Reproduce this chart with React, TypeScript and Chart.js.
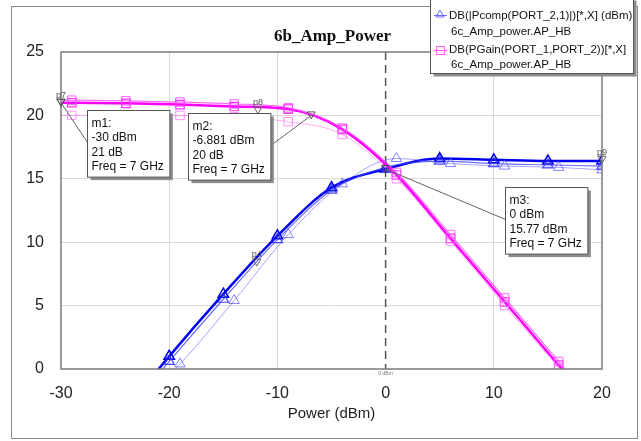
import React, { useEffect, useRef } from "react";
import { Chart, registerables } from "chart.js";

Chart.register(...registerables);

// ---------- data ----------
const xSetA = [-30, -25, -20, -15, -10, -5, 0, 5, 10, 15, 20];
const xSetB = [-29, -24, -19, -14, -9, -4, 1, 6, 11, 16, 20];
const xPink = [-30, -29, -24, -19, -14, -9, -4, 1, 6, 11, 16, 20];

const pcompMain = [-9.2, -4.2, 1.0, 5.9, 10.5, 14.3, 15.77, 16.6, 16.5, 16.4, 16.4];
const pcompMid = [-9.5, -4.5, 0.6, 5.5, 10.2, 14.1, 15.9, 16.4, 16.2, 16.1, 16.0];
const pcompLight = [-8.6, -3.6, 0.4, 5.4, 10.6, 14.6, 16.6, 16.2, 16.0, 15.9, 15.7];

const gainHigh = [21.2, 21.2, 21.15, 21.05, 20.9, 20.6, 19.0, 15.5, 10.6, 5.6, 0.6, -3.4];
const gainMain = [21.0, 21.0, 20.95, 20.85, 20.7, 20.5, 18.9, 15.3, 10.3, 5.3, 0.3, -3.7];
const gainLow = [20.0, 20.0, 20.0, 20.0, 19.9, 19.5, 18.5, 15.0, 10.1, 5.0, 0.1, -3.9];

const xTicks = [-30, -20, -10, 0, 10, 20];
const yTicks = [0, 5, 10, 15, 20, 25];

const titleText = "6b_Amp_Power";
const xTitle = "Power (dBm)";
const legendPcomp = ["DB(|Pcomp(PORT_2,1)|)[*,X] (dBm)", "6c_Amp_power.AP_HB"];
const legendGain = ["DB(PGain(PORT_1,PORT_2))[*,X]", "6c_Amp_power.AP_HB"];

// markers m1..m3
const mX = [-30, -6.881, 0];
const mY = [21, 20, 15.77];
const mText = [
  ["m1:", "-30 dBm", "21 dB", "Freq = 7 GHz"],
  ["m2:", "-6.881 dBm", "20 dB", "Freq = 7 GHz"],
  ["m3:", "0 dBm", "15.77 dBm", "Freq = 7 GHz"],
];
const mBoxX = [-27.6, -18.26, 11.03];
const mBoxY = [20.43, 20.19, 14.35];

// trace markers p
const pNames = ["p7", "p8", "p4", "p9"];
const pX = [-30, -11.8, -11.9, 20];
const pY = [21.0, 20.4, 8.4, 16.5];

const SANS = "'Liberation Sans', Arial, sans-serif";

const toXY = (xs: number[], ys: number[]) => xs.map((x, i) => ({ x, y: ys[i] }));

function markerRadius(c: any) {
  const r = c.raw;
  return r && r.y >= 0 && r.x > -30 ? 6 : 0;
}

function drawTriDown(ctx: CanvasRenderingContext2D, x: number, y: number) {
  ctx.beginPath();
  ctx.moveTo(x - 4, y - 3.5);
  ctx.lineTo(x + 4, y - 3.5);
  ctx.lineTo(x, y + 3.5);
  ctx.closePath();
  ctx.stroke();
}

const overlayPlugin = {
  id: "awrOverlay",
  beforeDraw(chart: any) {
    const { ctx } = chart;
    ctx.save();
    ctx.fillStyle = "#ffffff";
    ctx.fillRect(0, 0, chart.width, chart.height);
    ctx.strokeStyle = "#8a8a8a";
    ctx.lineWidth = 1;
    ctx.strokeRect(11.5, 6.5, 626, 432);
    ctx.restore();
  },
  beforeDatasetsDraw(chart: any) {
    const { ctx, chartArea: a, scales } = chart;
    const x0 = scales.x.getPixelForValue(0);
    ctx.save();
    ctx.strokeStyle = "#555555";
    ctx.lineWidth = 1.5;
    ctx.setLineDash([8, 5]);
    ctx.beginPath();
    ctx.moveTo(x0, a.top);
    ctx.lineTo(x0, a.bottom);
    ctx.stroke();
    ctx.restore();
  },
  afterDatasetsDraw(chart: any) {
    const { ctx, chartArea: a, scales } = chart;
    const px = (v: number) => scales.x.getPixelForValue(v);
    const py = (v: number) => scales.y.getPixelForValue(v);
    ctx.save();
    // plot border
    ctx.strokeStyle = "#7a7a7a";
    ctx.lineWidth = 1.5;
    ctx.strokeRect(a.left, a.top, a.right - a.left, a.bottom - a.top);

    // tiny 0 dBm label
    ctx.fillStyle = "#777";
    ctx.font = `5px ${SANS}`;
    ctx.textAlign = "center";
    ctx.textBaseline = "middle";
    ctx.fillText("0 dBm", px(0), a.bottom + 5);

    // p markers
    ctx.lineWidth = 1;
    ctx.strokeStyle = "#666";
    ctx.fillStyle = "#555";
    ctx.font = `9px ${SANS}`;
    ctx.textAlign = "left";
    ctx.textBaseline = "bottom";
    pNames.forEach((n, i) => {
      const x = px(pX[i]);
      const y = py(pY[i]);
      drawTriDown(ctx, x, y);
      ctx.fillText(n, x - 5, y - 3);
    });

    // m markers with boxes
    mText.forEach((lines, i) => {
      const ax = px(mX[i]);
      const ay = py(mY[i]);
      ctx.strokeStyle = "#555";
      ctx.lineWidth = 1;
      drawTriDown(ctx, ax, ay);
      ctx.font = `12px ${SANS}`;
      const w = Math.max(...lines.map((l) => ctx.measureText(l).width)) + 10;
      const h = lines.length * 14.4 + 9;
      const bx = Math.round(px(mBoxX[i])) + 0.5;
      const by = Math.round(py(mBoxY[i])) + 0.5;
      const attachX = ax < bx ? bx : bx + w;
      const attachY = by + 32;
      ctx.strokeStyle = "#666";
      ctx.beginPath();
      ctx.moveTo(ax, ay);
      ctx.lineTo(attachX, attachY);
      ctx.stroke();
      // shadow
      ctx.fillStyle = "#8c8c8c";
      ctx.fillRect(bx + 3, by + 3, w, h);
      ctx.fillStyle = "#ffffff";
      ctx.fillRect(bx, by, w, h);
      ctx.strokeStyle = "#555";
      ctx.strokeRect(bx, by, w, h);
      ctx.fillStyle = "#111";
      ctx.textAlign = "left";
      ctx.textBaseline = "middle";
      lines.forEach((l, k) => ctx.fillText(l, bx + 4, by + 13 + k * 14.4));
    });
    ctx.restore();
  },
  afterDraw(chart: any) {
    const { ctx, chartArea: a } = chart;
    ctx.save();
    // title
    ctx.fillStyle = "#111";
    ctx.font = `bold 17px 'Liberation Serif', 'Times New Roman', serif`;
    ctx.textAlign = "center";
    ctx.textBaseline = "middle";
    ctx.fillText(titleText, (a.left + a.right) / 2 + 1, 37);

    // legend box
    const lx = 430.5, ly = -2.5, lw = 203, lh = 76;
    ctx.fillStyle = "#8c8c8c";
    ctx.fillRect(lx + 3, ly + 3, lw, lh);
    ctx.fillStyle = "#fff";
    ctx.fillRect(lx, ly, lw, lh);
    ctx.strokeStyle = "#555";
    ctx.lineWidth = 1;
    ctx.strokeRect(lx, ly, lw, lh);

    // blue icon
    ctx.strokeStyle = "rgba(90,90,255,0.9)";
    ctx.beginPath();
    ctx.moveTo(434, 15.5);
    ctx.lineTo(447, 15.5);
    ctx.stroke();
    ctx.beginPath();
    ctx.moveTo(436, 17);
    ctx.lineTo(444, 17);
    ctx.lineTo(440, 10);
    ctx.closePath();
    ctx.stroke();
    // pink icon
    ctx.strokeStyle = "rgba(255,80,255,0.9)";
    ctx.beginPath();
    ctx.moveTo(434, 50.5);
    ctx.lineTo(447, 50.5);
    ctx.stroke();
    ctx.strokeRect(436.5, 46.5, 8, 8);

    ctx.fillStyle = "#111";
    ctx.font = `11.5px ${SANS}`;
    ctx.textAlign = "left";
    ctx.textBaseline = "middle";
    ctx.fillText(legendPcomp[0], 449, 16);
    ctx.fillText(legendPcomp[1], 451, 32);
    ctx.fillText(legendGain[0], 449, 50);
    ctx.fillText(legendGain[1], 451, 65);
    ctx.restore();
  },
};

export default function App() {
  const ref = useRef<HTMLCanvasElement | null>(null);

  useEffect(() => {
    if (!ref.current) return;
    const lineDs = (
      label: string,
      data: { x: number; y: number }[],
      color: string,
      width: number,
      style: string,
      ptColor: string,
      ptWidth: number
    ) => ({
      label,
      data,
      borderColor: color,
      borderWidth: width,
      backgroundColor: "transparent",
      pointStyle: style,
      pointRadius: markerRadius,
      pointBorderColor: ptColor,
      pointBackgroundColor: "transparent",
      pointBorderWidth: ptWidth,
      cubicInterpolationMode: "monotone",
      fill: false,
    });

    const chart = new Chart(ref.current, {
      type: "line",
      data: {
        datasets: [
          lineDs("gainLow", toXY(xPink, gainLow), "rgba(255,120,255,0.6)", 1, "rect", "rgba(255,110,255,0.75)", 1),
          lineDs("gainHigh", toXY(xPink, gainHigh), "rgba(255,70,255,0.8)", 1.2, "rect", "rgba(255,70,255,0.85)", 1),
          lineDs("gainMain", toXY(xPink, gainMain), "#ff00ff", 2.5, "rect", "#ff33ff", 1.2),
          lineDs("pcompLight", toXY(xSetB, pcompLight), "rgba(90,90,255,0.55)", 1, "triangle", "rgba(90,90,255,0.75)", 1),
          lineDs("pcompMid", toXY(xSetA, pcompMid), "rgba(60,60,255,0.75)", 1.2, "triangle", "rgba(40,40,255,0.85)", 1.2),
          lineDs("pcompMain", toXY(xSetA, pcompMain), "#0000f0", 2.5, "triangle", "#0000e0", 1.5),
        ] as any,
      },
      options: {
        animation: false,
        responsive: false,
        events: [],
        layout: { padding: { left: 0, right: 39, top: 52, bottom: 0 } },
        plugins: {
          legend: { display: false },
          title: { display: false },
          tooltip: { enabled: false },
        },
        scales: {
          x: {
            type: "linear",
            min: -30,
            max: 20,
            afterBuildTicks: (s: any) => {
              s.ticks = xTicks.map((v) => ({ value: v }));
            },
            afterFit: (s: any) => {
              s.height = 72;
            },
            ticks: {
              color: "#222",
              font: { family: SANS, size: 16 },
              padding: 15,
              maxRotation: 0,
            },
            grid: {
              drawTicks: false,
              color: (c: any) => (c.tick && (c.tick.value === 0 || c.tick.value === -30 || c.tick.value === 20) ? "transparent" : "#d9d9d9"),
              lineWidth: 1,
            },
            border: { display: false },
            title: {
              display: true,
              text: xTitle,
              color: "#222",
              font: { family: SANS, size: 15 },
              padding: { top: 0, bottom: 18 },
            },
          },
          y: {
            type: "linear",
            min: 0,
            max: 25,
            afterBuildTicks: (s: any) => {
              s.ticks = yTicks.map((v) => ({ value: v }));
            },
            afterFit: (s: any) => {
              s.width = 61;
            },
            ticks: {
              color: "#222",
              font: { family: SANS, size: 16 },
              padding: 17,
            },
            grid: {
              drawTicks: false,
              color: (c: any) => (c.tick && (c.tick.value === 0 || c.tick.value === 25) ? "transparent" : "#d9d9d9"),
              lineWidth: 1,
            },
            border: { display: false },
          },
        },
      } as any,
      plugins: [overlayPlugin as any],
    });
    return () => chart.destroy();
  }, []);

  return (
    <div style={{ position: "absolute", left: 0, top: 0, width: 641, height: 441 }}>
      <canvas ref={ref} width={641} height={441} style={{ width: 641, height: 441, display: "block" }} />
    </div>
  );
}
